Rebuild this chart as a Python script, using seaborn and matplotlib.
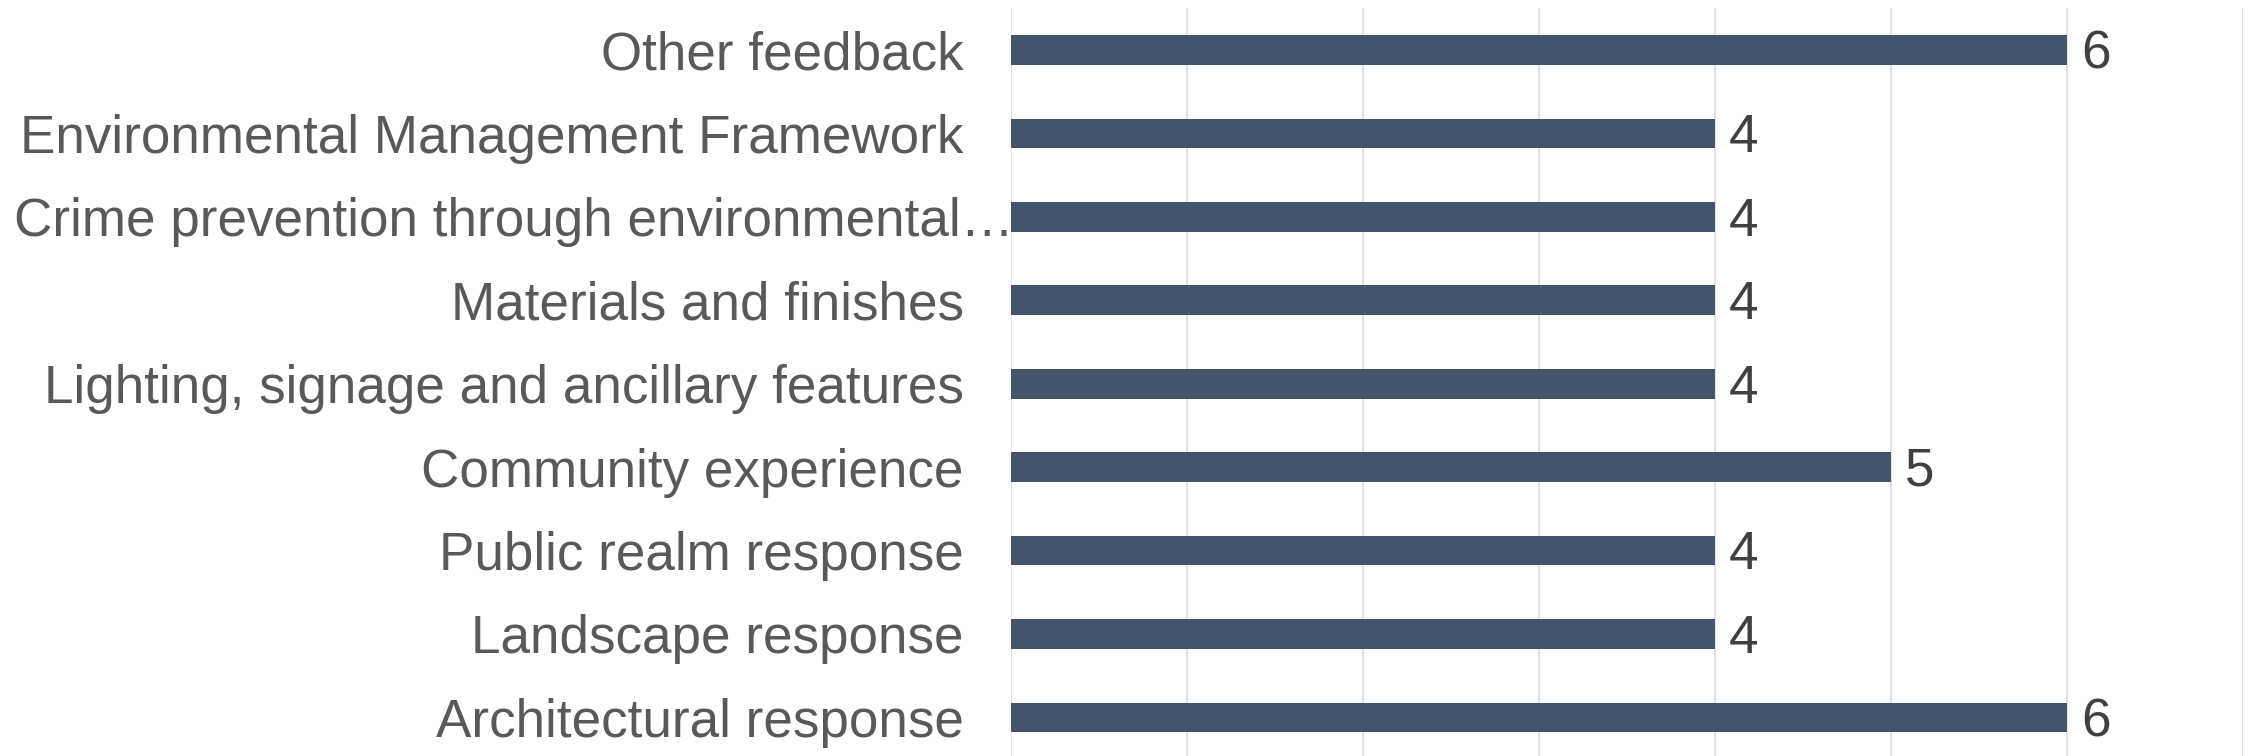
import matplotlib
matplotlib.use("Agg")
import matplotlib.pyplot as plt
import seaborn as sns
import pandas as pd

categories = [
    "Other feedback",
    "Environmental Management Framework",
    "Crime prevention through environmental…",
    "Materials and finishes",
    "Lighting, signage and ancillary features",
    "Community experience",
    "Public realm response",
    "Landscape response",
    "Architectural response",
]
values = [6, 4, 4, 4, 4, 5, 4, 4, 6]
x_ticks = [0, 1, 2, 3, 4, 5, 6, 7]

sns.set_theme(style="white")
plt.rcParams['font.family'] = ['Liberation Sans', 'DejaVu Sans']

df = pd.DataFrame({"category": categories, "value": values})

fig = plt.figure(figsize=(22.49, 7.56), dpi=100)
ax = fig.add_axes([0.4495, -0.0041, 0.5478, 0.9931])

sns.barplot(data=df, x="value", y="category", order=categories, orient="h",
            color="#44546a", width=0.355, saturation=1, ax=ax, edgecolor="#44546a",
            linewidth=0)

FS = 38.2
ax.set_xlim(0, 7)
ax.set_xticks(x_ticks)
ax.set_xticklabels([])
ax.set_ylim(8.5, -0.5)
ax.grid(axis="x", color="#d9d9d9", linewidth=1.1)
ax.grid(axis="y", visible=False)
ax.set_axisbelow(True)
for s in ax.spines.values():
    s.set_visible(False)
ax.set_xlabel("")
ax.set_ylabel("")
ax.tick_params(axis="both", length=0)
ax.tick_params(axis="y", pad=34, labelsize=FS, labelcolor="#595959")

# truncated label is left-aligned from the figure edge, as in the reference
labels = ax.get_yticklabels()
trunc_idx = 2
labels[trunc_idx].set_visible(False)
t = fig.text(14 / 2249, 0, categories[trunc_idx], ha="left", va="center_baseline",
             fontsize=FS, color="#595959",
             transform=matplotlib.transforms.blended_transform_factory(fig.transFigure, ax.transData))
t.set_y(trunc_idx)

for c in ax.containers:
    anns = ax.bar_label(c, labels=[str(v) for v in values], padding=10,
                        fontsize=FS, color="#404040")
    for a in anns:
        a.xyann = (10, -3.5)

fig.savefig("out.png", dpi=100)
